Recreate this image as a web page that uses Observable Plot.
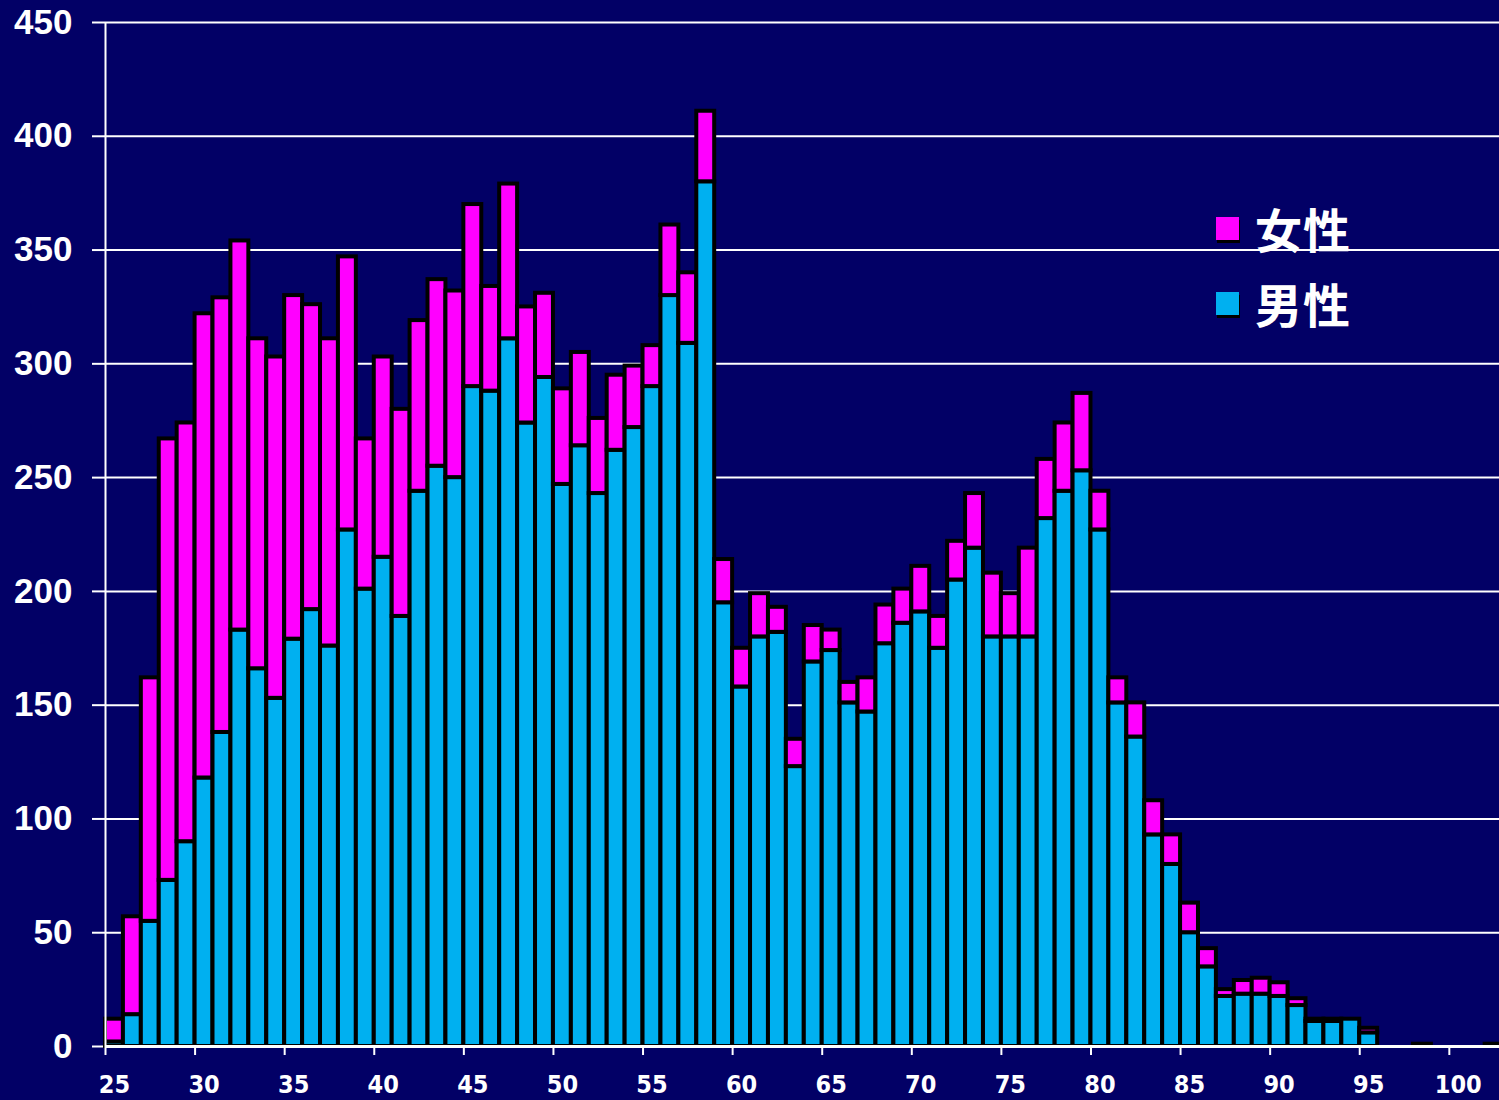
<!DOCTYPE html>
<html>
<head>
<meta charset="utf-8">
<script src="https://cdn.jsdelivr.net/npm/d3@7"></script>
<script src="https://cdn.jsdelivr.net/npm/@observablehq/plot@0.6"></script>
<style>
  html, body { margin: 0; padding: 0; background: #020066; }
  #wrap { position: relative; width: 1499px; height: 1100px; overflow: hidden; background: #020066; }
  #legend { position: absolute; left: 1216px; top: 203px; font-family: "Noto Sans CJK JP", sans-serif; font-weight: 700; color: #fff; }
  .item { display: flex; align-items: center; height: 50px; margin-bottom: 25px; }
  .sw { width: 23px; height: 23px; box-shadow: 1px 3px 0 #000; margin-right: 16px; }
  .lab { font-size: 47px; line-height: 50px; letter-spacing: 1px; }
</style>
</head>
<body>
<div id="wrap">
  <div id="chart"></div>
  <div id="legend"></div>
</div>
<script>
// Ages (years)
const ages = d3.range(25, 103);
// 男性 (male) counts per age
const male = [
  2, 14, 55, 73, 90, 118, 138, 183, 166, 153,
  179, 192, 176, 227, 201, 215, 189, 244, 255, 250,
  290, 288, 311, 274, 294, 247, 264, 243, 262, 272,
  290, 330, 309, 380, 195, 158, 180, 182, 123, 169,
  174, 151, 147, 177, 186, 191, 175, 205, 219, 180,
  180, 180, 232, 244, 253, 227, 151, 136, 93, 80,
  50, 35, 22, 23, 23, 22, 18, 11, 11, 12,
  6, 0, 0, 0, 0, 0, 0, 1
];
// 女性 (female) counts per age
const female = [
  10, 43, 107, 194, 184, 204, 191, 171, 145, 150,
  151, 134, 135, 120, 66, 88, 91, 75, 82, 82,
  80, 46, 68, 51, 37, 42, 41, 33, 33, 27,
  18, 31, 31, 31, 19, 17, 19, 11, 12, 16,
  9, 9, 15, 17, 15, 20, 14, 17, 24, 28,
  19, 39, 26, 30, 34, 17, 11, 15, 15, 13,
  13, 8, 3, 6, 7, 6, 3, 1, 1, 0,
  2, 0, 0, 1, 0, 0, 0, 0
];
const xTickLabels = [25, 30, 35, 40, 45, 50, 55, 60, 65, 70, 75, 80, 85, 90, 95, 100];
const yTicks = [0, 50, 100, 150, 200, 250, 300, 350, 400, 450];
const series = ["女性", "男性"];
const colors = ["#FF00FF", "#00B0F0"];

const rows = [];
ages.forEach((a, i) => {
  rows.push({age: a, sex: "男性", lo: 0, hi: male[i]});
  rows.push({age: a, sex: "女性", lo: male[i], hi: male[i] + female[i]});
});

const chart = Plot.plot({
  width: 1499,
  height: 1100,
  marginLeft: 105,
  marginRight: 0,
  marginTop: 22,
  marginBottom: 54,
  style: {background: "#020066", color: "#fff", overflow: "visible"},
  x: {domain: [24.5, 102.3], axis: null},
  y: {domain: [0, 450], axis: null},
  color: {domain: series, range: colors},
  marks: [
    Plot.gridY(yTicks, {stroke: "#fff", strokeOpacity: 1, strokeWidth: 2}),
    Plot.axisY({ticks: yTicks, tickSize: 13, tickPadding: 20, stroke: "#fff", strokeWidth: 2,
      fontSize: 35, fontFamily: "Liberation Sans, Arial, sans-serif", fontWeight: "bold", fill: "#fff", label: null}),
    Plot.rect(rows, {
      x1: d => d.age - 0.5, x2: d => d.age + 0.5,
      y1: "lo", y2: "hi",
      fill: "sex", stroke: "#000", strokeWidth: 4
    }),
    Plot.ruleX([24.5], {stroke: "#fff", strokeWidth: 2}),
    Plot.ruleY([0], {stroke: "#fff", strokeWidth: 3}),
    Plot.axisX({ticks: xTickLabels.map(v => v - 0.5), tickFormat: () => "", tickSize: 9, stroke: "#fff", strokeWidth: 2, label: null}),
    Plot.axisX({ticks: xTickLabels, tickSize: 0, tickPadding: 29, fontSize: 25, fontWeight: "bold",
      fontFamily: "Liberation Sans Narrow, DejaVu Sans Condensed, sans-serif", fill: "#fff", label: null})
  ]
});
document.getElementById("chart").appendChild(chart);

const legend = document.getElementById("legend");
series.forEach((s, i) => {
  const it = document.createElement("div");
  it.className = "item";
  const sw = document.createElement("div");
  sw.className = "sw";
  sw.style.background = colors[i];
  const lab = document.createElement("span");
  lab.className = "lab";
  lab.textContent = s;
  it.appendChild(sw);
  it.appendChild(lab);
  legend.appendChild(it);
});
</script>
</body>
</html>
